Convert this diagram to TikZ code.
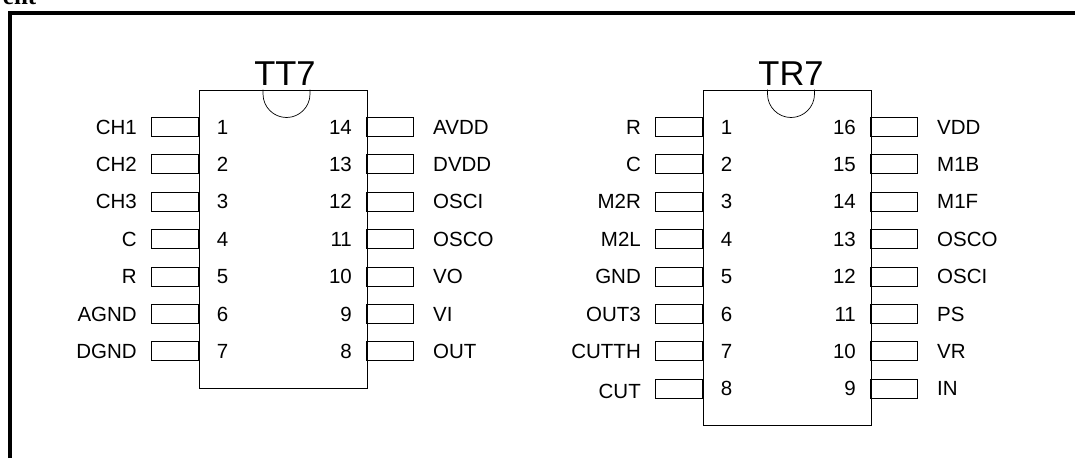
\documentclass[tikz,border=0pt]{standalone}
\usepackage{fontspec}
\setmainfont{Liberation Sans}
\newfontfamily\serifbold{Liberation Serif}
\tikzset{
  x=1pt,y=-1pt,
  chipbox/.style={draw,line width=0.9pt,minimum width=168pt,inner sep=0,anchor=north west},
  pinbox/.style={draw,line width=0.9pt,minimum width=47pt,minimum height=19pt,inner sep=0},
  lab/.style={font=\fontsize{20.5}{22}\selectfont,inner sep=0},
  title/.style={font=\fontsize{34.5}{36}\selectfont,inner sep=0,anchor=base},
  frameline/.style={line width=4pt,line cap=butt},
  notch/.style={line width=0.7pt},
}
\begin{document}
\begin{tikzpicture}
\useasboundingbox (0,0) rectangle (1075,458);
\clip (0,0) rectangle (1075,458);
\fill[white] (0,0) rectangle (1075,458);
\coordinate (fb) at (10,458); \coordinate (fc) at (10,13); \coordinate (fr) at (1075,13);
\draw[frameline] (fb) -- (fc) -- (fr);
\node[font=\serifbold\bfseries\fontsize{25}{28}\selectfont,inner sep=0,anchor=base east] (cut) at (36.5,4) {ent};
% TT7
\node[chipbox,minimum height=298.5pt] (c1) at (198.5,89.5) {};
\draw[notch] (263,89.5) -- (263,94) arc[start angle=180,end angle=360,radius=23.5pt] -- (310,89.5);
\node[title] (t1) at (285,85.5) {TT7};
\foreach \n/\t/\i in {1/CH1/0,2/CH2/1,3/CH3/2,4/C/3,5/R/4,6/AGND/5,7/DGND/6}{
  \pgfmathsetmacro{\yy}{127+37.4*\i}
  \node[pinbox] (a\n) at (175,\yy) {};
  \node[lab,anchor=east] (al\n) at (137,\yy) {\t};
  \node[lab] (an\n) at (222.5,\yy) {\n};
}
\foreach \n/\t/\i in {14/AVDD/0,13/DVDD/1,12/OSCI/2,11/OSCO/3,10/VO/4,9/VI/5,8/OUT/6}{
  \pgfmathsetmacro{\yy}{127+37.4*\i}
  \node[pinbox] (a\n) at (390,\yy) {};
  \node[lab,anchor=west] (al\n) at (433,\yy) {\t};
  \node[lab,anchor=east] (an\n) at (352,\yy) {\n};
}
% TR7
\node[chipbox,minimum height=335.5pt] (c2) at (702.5,89.5) {};
\draw[notch] (767.5,89.5) -- (767.5,94) arc[start angle=180,end angle=360,radius=23.5pt] -- (814.5,89.5);
\node[title] (t2) at (791,85.5) {TR7};
\foreach \n/\t/\i/\d in {1/R/0/0,2/C/1/0,3/M2R/2/0,4/M2L/3/0,5/GND/4/0,6/OUT3/5/0,7/CUTTH/6/0,8/CUT/7/2.5}{
  \pgfmathsetmacro{\yy}{127+37.4*\i}
  \node[pinbox] (b\n) at (679,\yy) {};
  \node[lab,anchor=east] (bl\n) at (641,\yy+\d) {\t};
  \node[lab] (bn\n) at (726.5,\yy) {\n};
}
\foreach \n/\t/\i in {16/VDD/0,15/M1B/1,14/M1F/2,13/OSCO/3,12/OSCI/4,11/PS/5,10/VR/6,9/IN/7}{
  \pgfmathsetmacro{\yy}{127+37.4*\i}
  \node[pinbox] (b\n) at (894,\yy) {};
  \node[lab,anchor=west] (bl\n) at (937,\yy) {\t};
  \node[lab,anchor=east] (bn\n) at (856,\yy) {\n};
}
\end{tikzpicture}
\end{document}
